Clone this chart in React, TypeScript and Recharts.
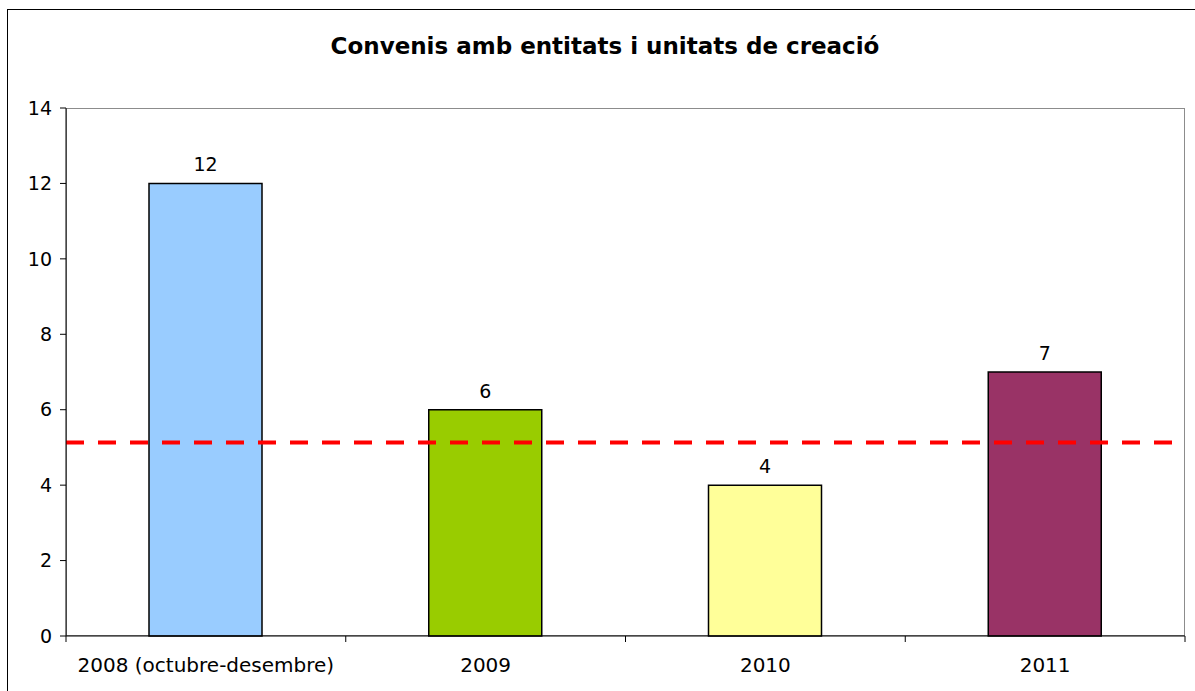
import React from 'react';
import { BarChart, Bar, XAxis, YAxis, Cell, LabelList, ReferenceLine, ReferenceArea } from 'recharts';

const categories = ['2008 (octubre-desembre)', '2009', '2010', '2011'];
const values = [12, 6, 4, 7];
const barColors = ['#99CCFF', '#99CC00', '#FFFF99', '#993366'];
const yTicks = [0, 2, 4, 6, 8, 10, 12, 14];
const referenceValue = 5.13;

const data = categories.map((name, i) => ({ name, value: values[i] }));

const FONT = '"DejaVu Sans", Verdana, sans-serif';
const TICK_GAP = 22;

// category label plus tick marks on the band boundaries (Excel style)
const CategoryTick = (props: any) => {
  const { x, y, payload, index, visibleTicksCount } = props;
  const half = payload && payload.offset ? payload.offset : 139.875;
  const axisY = y - TICK_GAP;
  const isLast = index === (visibleTicksCount ?? categories.length) - 1;
  return (
    <g>
      <line x1={x - half} x2={x - half} y1={axisY} y2={axisY + 6} stroke="#000" />
      {isLast && <line x1={x + half} x2={x + half} y1={axisY} y2={axisY + 6} stroke="#000" />}
      <text x={x} y={y} dy="0.71em" textAnchor="middle" fill="#000" fontSize={20} fontFamily={FONT}>
        {payload.value}
      </text>
    </g>
  );
};

const App: React.FC = () => {
  return (
    <div style={{ position: 'absolute', left: 0, top: 0, width: 1195, height: 691, overflow: 'hidden', background: '#fff' }}>
      {/* outer chart frame */}
      <div
        style={{
          position: 'absolute',
          left: 7,
          top: 9,
          width: 1200,
          height: 700,
          border: '1px solid #000',
        }}
      />
      <div
        style={{
          position: 'absolute',
          left: 0,
          top: 33,
          width: 1210,
          textAlign: 'center',
          fontFamily: FONT,
          fontWeight: 'bold',
          fontSize: 23,
          color: '#000',
        }}
      >
        Convenis amb entitats i unitats de creació
      </div>
      <div style={{ position: 'absolute', left: 0, top: 0 }}>
        <BarChart
          width={1195}
          height={691}
          data={data}
          margin={{ top: 108, right: 10, bottom: 0, left: 0 }}
          style={{ fontFamily: FONT }}
        >
          <ReferenceArea y1={0} y2={14} fill="none" stroke="#8c8c8c" strokeWidth={2} ifOverflow="hidden" />
          <XAxis
            dataKey="name"
            height={55}
            tickLine={false}
            axisLine={{ stroke: '#000' }}
            tickSize={0}
            tickMargin={TICK_GAP}
            interval={0}
            tick={<CategoryTick />}
          />
          <YAxis
            width={66}
            domain={[0, 14]}
            ticks={yTicks}
            interval={0}
            tickSize={6}
            tickMargin={8}
            axisLine={{ stroke: '#000' }}
            tickLine={{ stroke: '#000' }}
            tick={{ fill: '#000', fontSize: 19, fontFamily: FONT }}
          />
          <Bar dataKey="value" barSize={113} stroke="#000" strokeWidth={1.5} isAnimationActive={false}>
            {data.map((d, i) => (
              <Cell key={d.name} fill={barColors[i]} />
            ))}
            <LabelList dataKey="value" position="top" offset={12} fill="#000" fontSize={19} fontFamily={FONT} />
          </Bar>
          <ReferenceLine y={referenceValue} stroke="#FF0000" strokeWidth={4} strokeDasharray="18 14" />
        </BarChart>
      </div>
    </div>
  );
};

export default App;
